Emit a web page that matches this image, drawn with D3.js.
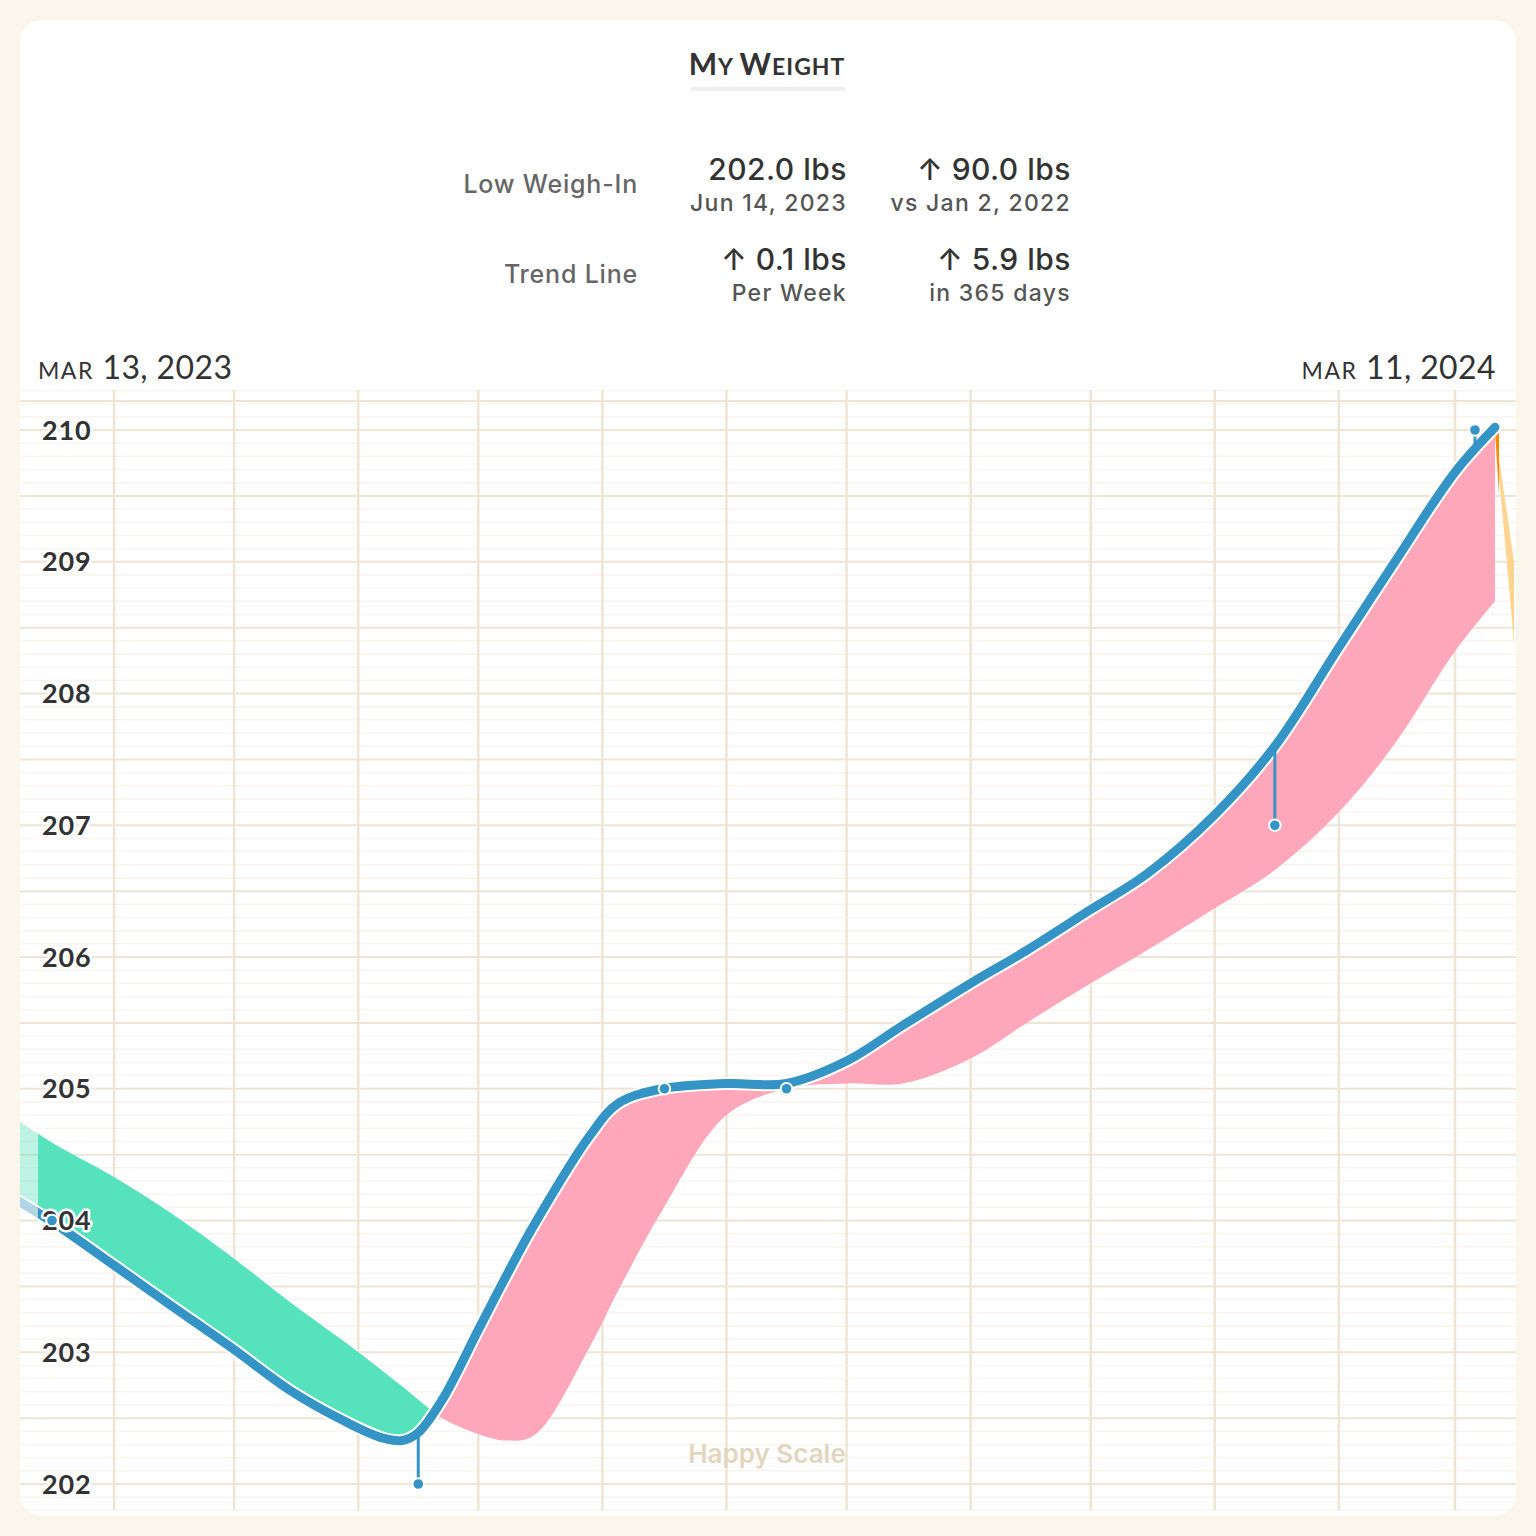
<!DOCTYPE html>
<html>
<head>
<meta charset="utf-8">
<script src="https://cdn.jsdelivr.net/npm/d3@7"></script>
<style>
  html, body { margin: 0; padding: 0; background: #FAF6EB; }
  svg { display: block; }
</style>
</head>
<body>
<svg id="chart" width="1536" height="1536"></svg>
<script>
// ---------------- DATA ----------------
const chartTitle = ["M", "Y ", "W", "EIGHT"];
const rangeStart = "2023-03-13";
const rangeEnd = "2024-03-11";
const rangeStartLabel = ["MAR", " 13, 2023"];
const rangeEndLabel = ["MAR", " 11, 2024"];

const statLabels = ["Low Weigh-In", "Trend Line"];
const statMain1 = ["202.0 lbs", "\u2191 0.1 lbs"];
const statSub1 = ["Jun 14, 2023", "Per Week"];
const statMain2 = ["\u2191 90.0 lbs", "\u2191 5.9 lbs"];
const statSub2 = ["vs Jan 2, 2022", "in 365 days"];

const yTickValues = [202, 203, 204, 205, 206, 207, 208, 209, 210];

// Trend line (lbs)
const trendDates = ["2023-03-08","2023-03-16","2023-04-01","2023-04-15","2023-05-01","2023-05-15",
  "2023-05-29","2023-06-07","2023-06-12","2023-06-16","2023-06-22","2023-07-01","2023-07-08",
  "2023-07-15","2023-07-29","2023-08-05","2023-08-16","2023-09-01","2023-09-16","2023-10-01",
  "2023-10-15","2023-11-01","2023-11-15","2023-12-01","2023-12-15","2024-01-01","2024-01-16",
  "2024-02-01","2024-02-15","2024-03-01","2024-03-11"];
const trendValues = [204.15,204.00,203.66,203.36,203.02,202.71,
  202.47,202.35,202.33,202.39,202.64,203.17,203.58,
  203.97,204.65,204.89,205.00,205.04,205.04,205.21,
  205.48,205.80,206.05,206.36,206.63,207.08,207.60,
  208.35,209.00,209.68,210.02];
// Trend value one month earlier (other edge of the coloured band)
const monthAgoValues = [204.76,204.60,204.33,204.06,203.71,203.38,
  203.07,202.86,202.74,202.64,202.50,202.38,202.33,
  202.37,203.05,203.47,204.08,204.80,205.00,205.04,
  205.04,205.23,205.50,205.80,206.05,206.37,206.66,
  207.10,207.62,208.32,208.70];

// Weigh-ins
const weighDates = ["2023-03-16T12:00","2023-06-16T00:00","2023-08-16T12:00","2023-09-16T00:00","2024-01-16T00:00","2024-03-06T00:00"];
const weighValues = [204.0, 202.0, 205.0, 205.0, 207.0, 210.0];

// Tail past the last day (in-progress band)
const tailLightDates = ["2024-03-11T00:00","2024-03-15T18:00"];
const tailLightEdgeA = [210.0, 208.38];
const tailLightEdgeB = [210.0, 209.0];
const tailDarkDates = ["2024-03-11T00:00","2024-03-12T00:00"];
const tailDarkUpper = [210.0, 210.0];
const tailDarkLower = [210.0, 209.5];

const watermark = "Happy Scale";

// ---------------- STYLE ----------------
const C = {
  bg: "#FAF6EB", card: "#FFFFFF", blue: "#3494C5", green: "#55E2BD", pink: "#FFA7BA",
  orangeDark: "#FF8C00", orangeLight: "#FFD48F", gridMain: "#EEE5D5", gridFaint: "#F9F5EE",
  text: "#333333", textMid: "#666666", textSub: "#555555", mark: "#E3D6BF"
};
const card = {x: 20, y: 20, w: 1496, h: 1496, r: 22};

const pD = d3.timeParse("%Y-%m-%d");
const pT = d3.timeParse("%Y-%m-%dT%H:%M");

const trend = trendDates.map((d, i) => ({date: pD(d), v: trendValues[i], r: monthAgoValues[i]}));
const weighs = weighDates.map((d, i) => ({date: pT(d), v: weighValues[i]}));

const svg = d3.select("#chart");
const defs = svg.append("defs");

svg.append("rect").attr("width", 1536).attr("height", 1536).attr("fill", C.bg);
svg.append("rect").attr("x", card.x).attr("y", card.y).attr("width", card.w).attr("height", card.h)
  .attr("rx", card.r).attr("fill", C.card);

defs.append("clipPath").attr("id", "cardClip").append("rect")
  .attr("x", card.x).attr("y", card.y).attr("width", card.w).attr("height", card.h).attr("rx", card.r);

const x = d3.scaleTime().domain([pD(rangeStart), pD(rangeEnd)]).range([38, 1495]);
const y = d3.scaleLinear().domain([202, 210]).range([1484, 430]);

const gridTop = 390, gridBottom = 1510;
const root = svg.append("g").attr("clip-path", "url(#cardClip)");

// ---------- grid ----------
const gGrid = root.append("g");
const faint = d3.range(2018, 2104).map(v => v / 10).filter(v => Math.abs(v * 2 - Math.round(v * 2)) > 0.01);
gGrid.selectAll("line.faint").data(faint).join("line")
  .attr("x1", card.x).attr("x2", card.x + card.w)
  .attr("y1", d => y(d)).attr("y2", d => y(d))
  .attr("stroke", C.gridFaint).attr("stroke-width", 1.5);
const halfLines = d3.range(404, 421).map(v => v / 2);
gGrid.selectAll("line.half").data(halfLines).join("line")
  .attr("x1", card.x).attr("x2", card.x + card.w)
  .attr("y1", d => y(d)).attr("y2", d => y(d))
  .attr("stroke", C.gridMain).attr("stroke-width", 2);
gGrid.append("line").attr("x1", card.x).attr("x2", card.x + card.w)
  .attr("y1", y(210.22)).attr("y2", y(210.22)).attr("stroke", C.gridMain).attr("stroke-width", 2);
gGrid.selectAll("line.month").data(x.ticks(d3.timeMonth.every(1))).join("line")
  .attr("x1", d => x(d)).attr("x2", d => x(d))
  .attr("y1", gridTop).attr("y2", gridBottom)
  .attr("stroke", C.gridMain).attr("stroke-width", 2.5);

// watermark
root.append("text").attr("x", 767).attr("y", 1463).attr("text-anchor", "middle")
  .attr("font-family", "Inter, 'Open Sans', sans-serif").attr("font-weight", 600)
  .attr("font-size", 26).attr("fill", C.mark).text(watermark);

// ---------- bands & line ----------
const curve = d3.curveCatmullRom.alpha(0.5);
const areaRefDown = d3.area().curve(curve).x(d => x(d.date)).y0(d => y(d.r)).y1(card.y + card.h);
const areaTopToTrend = d3.area().curve(curve).x(d => x(d.date)).y0(card.y).y1(d => y(d.v));
const areaTrendDown = d3.area().curve(curve).x(d => x(d.date)).y0(d => y(d.v)).y1(card.y + card.h);
const areaTopToRef = d3.area().curve(curve).x(d => x(d.date)).y0(card.y).y1(d => y(d.r));
const trendLine = d3.line().curve(curve).x(d => x(d.date)).y(d => y(d.v));

defs.append("clipPath").attr("id", "aboveTrend").append("path").attr("d", areaTopToTrend(trend));
defs.append("clipPath").attr("id", "aboveRef").append("path").attr("d", areaTopToRef(trend));
defs.append("clipPath").attr("id", "fadedZone").append("rect")
  .attr("x", card.x).attr("y", card.y).attr("width", x(pD(rangeStart)) - card.x).attr("height", card.h);
defs.append("clipPath").attr("id", "mainZone").append("rect")
  .attr("x", x(pD(rangeStart))).attr("y", card.y).attr("width", 1536).attr("height", card.h);

function drawSeries(g) {
  g.append("path").attr("d", areaRefDown(trend)).attr("fill", C.green).attr("clip-path", "url(#aboveTrend)");
  g.append("path").attr("d", areaTrendDown(trend)).attr("fill", C.pink).attr("clip-path", "url(#aboveRef)");
  g.append("path").attr("d", trendLine(trend)).attr("fill", "none").attr("stroke", "#fff")
    .attr("stroke-width", 13).attr("stroke-linecap", "round").attr("stroke-linejoin", "round");
  return g.append("path").attr("d", trendLine(trend)).attr("fill", "none").attr("stroke", C.blue)
    .attr("stroke-width", 9).attr("stroke-linecap", "round").attr("stroke-linejoin", "round");
}
const gFaded = root.append("g").attr("clip-path", "url(#fadedZone)").attr("opacity", 0.38);
drawSeries(gFaded);
const gMain = root.append("g").attr("clip-path", "url(#mainZone)");

// tail (drawn beneath the main line)
const tailLight = tailLightDates.map((d, i) => ({date: pT(d), a: tailLightEdgeA[i], b: tailLightEdgeB[i]}));
const tailDark = tailDarkDates.map((d, i) => ({date: pT(d), a: tailDarkUpper[i], b: tailDarkLower[i]}));
const tailArea = d3.area().x(d => x(d.date)).y0(d => y(d.a)).y1(d => y(d.b));
gMain.append("path").attr("d", tailArea(tailLight)).attr("fill", C.orangeLight);
gMain.append("path").attr("d", tailArea(tailDark)).attr("fill", C.orangeDark);

const mainLine = drawSeries(gMain).node();

// y on trend path for a given x
function yOnTrend(px) {
  const L = mainLine.getTotalLength();
  let lo = 0, hi = L;
  for (let i = 0; i < 40; i++) {
    const mid = (lo + hi) / 2;
    if (mainLine.getPointAtLength(mid).x < px) lo = mid; else hi = mid;
  }
  return mainLine.getPointAtLength((lo + hi) / 2).y;
}

// ---------- y labels ----------
root.append("g").selectAll("text").data(yTickValues).join("text")
  .attr("x", 42).attr("y", d => y(d)).attr("dy", "0.36em")
  .attr("font-family", "Lato, 'Open Sans', sans-serif").attr("font-weight", 700)
  .attr("font-size", 27).attr("letter-spacing", 0.8).attr("fill", C.text)
  .attr("stroke", "#fff").attr("stroke-width", 5).attr("paint-order", "stroke")
  .attr("stroke-linejoin", "round")
  .text(d => d);

// ---------- weigh-ins ----------
const gW = root.append("g");
gW.selectAll("line").data(weighs).join("line")
  .attr("x1", d => x(d.date)).attr("x2", d => x(d.date))
  .attr("y1", d => y(d.v)).attr("y2", d => yOnTrend(x(d.date)))
  .attr("stroke", C.blue).attr("stroke-width", 3);
gW.selectAll("circle").data(weighs).join("circle")
  .attr("cx", d => x(d.date)).attr("cy", d => y(d.v)).attr("r", 5.8)
  .attr("fill", C.blue).attr("stroke", "#fff").attr("stroke-width", 2);

// ---------- header ----------
const title = svg.append("text").attr("x", 767).attr("y", 75).attr("text-anchor", "middle")
  .attr("font-family", "Lato, 'Open Sans', sans-serif").attr("font-weight", 700)
  .attr("fill", C.text).attr("letter-spacing", 1);
chartTitle.forEach((t, i) => title.append("tspan").attr("font-size", i % 2 === 0 ? 30 : 23).text(t));
svg.append("rect").attr("x", 691).attr("y", 87).attr("width", 154).attr("height", 4).attr("rx", 2)
  .attr("fill", "#EEEEEE");

const statFont = "Inter, 'Noto Sans', sans-serif";
const rowY = [180, 270];
statLabels.forEach((lab, i) => {
  svg.append("text").attr("x", 638).attr("y", rowY[i] + 13).attr("text-anchor", "end")
    .attr("font-family", statFont).attr("font-weight", 500).attr("font-size", 25)
    .attr("letter-spacing", 0.8).attr("fill", C.textMid).text(lab);
  [[847, statMain1[i], statSub1[i]], [1071, statMain2[i], statSub2[i]]].forEach(([cx, m, s]) => {
    svg.append("text").attr("x", cx).attr("y", rowY[i]).attr("text-anchor", "end")
      .attr("font-family", statFont).attr("font-weight", 500).attr("font-size", 30)
      .attr("letter-spacing", 0.5).attr("fill", C.text).text(m);
    svg.append("text").attr("x", cx).attr("y", rowY[i] + 31).attr("text-anchor", "end")
      .attr("font-family", statFont).attr("font-weight", 500).attr("font-size", 23)
      .attr("letter-spacing", 1.3).attr("fill", C.textSub).text(s);
  });
});

function dateLabel(parts, px, anchor) {
  const t = svg.append("text").attr("x", px).attr("y", 379).attr("text-anchor", anchor)
    .attr("font-family", "Lato, 'Open Sans', sans-serif").attr("font-weight", 400).attr("fill", C.text);
  t.append("tspan").attr("font-size", 23).attr("letter-spacing", 1.5).text(parts[0]);
  t.append("tspan").attr("font-size", 32).attr("letter-spacing", 0.4).text(parts[1]);
}
dateLabel(rangeStartLabel, 38, "start");
dateLabel(rangeEndLabel, 1496, "end");
</script>
</body>
</html>
